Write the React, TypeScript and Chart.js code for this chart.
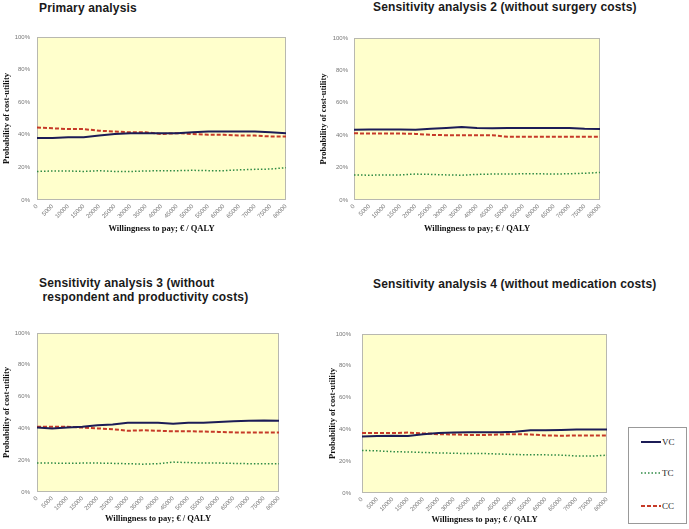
import React, { useEffect, useRef } from "react";
import { Chart, registerables } from "chart.js";

Chart.register(...registerables);

const wtpLabels = ["0", "5000", "10000", "15000", "20000", "25000", "30000", "35000", "40000", "45000", "50000", "55000", "60000", "65000", "70000", "75000", "80000"];
const yTickValues = [0, 20, 40, 60, 80, 100];

const primaryVC = [38, 38, 38.5, 38.5, 39.5, 40.5, 41, 41, 41, 41, 41.5, 42, 42, 42, 42, 41.5, 41];
const primaryTC = [17.5, 17.8, 17.8, 17.5, 18, 17.5, 17.5, 17.8, 18, 18, 18.2, 18, 18, 18.5, 18.8, 19, 19.8];
const primaryCC = [44.5, 44, 43.5, 43.5, 42.5, 42, 41.5, 41.5, 40.5, 41, 40.5, 40, 40, 39.5, 39.5, 39, 39];

const sens2VC = [43.3, 43.5, 43.5, 43.5, 43.3, 44, 44.5, 45, 44.5, 44.3, 44.5, 44.5, 44.5, 44.5, 44.5, 44, 43.8];
const sens2TC = [15.5, 15.3, 15.5, 15.5, 16, 15.8, 15.5, 15.3, 15.8, 16, 16, 16.2, 16.2, 16, 16.2, 16.5, 17];
const sens2CC = [41.2, 41, 41, 41, 40.8, 40.2, 40, 40, 40, 40, 39, 39, 39, 39, 39, 39, 39];

const sens3VC = [40.5, 40, 40.5, 41, 42, 42.5, 43.5, 43.5, 43.5, 43, 43.5, 43.5, 44, 44.5, 44.8, 45, 44.8];
const sens3TC = [18.2, 18.2, 18, 18.2, 18.2, 18, 17.8, 17.5, 17.8, 18.8, 18.5, 18.2, 18.2, 18, 17.8, 17.8, 17.8];
const sens3CC = [41, 41, 41, 40.5, 40, 39.5, 38.5, 38.8, 38.5, 38.2, 38.2, 38, 37.8, 37.5, 37.5, 37.5, 37.5];

const sens4VC = [35.6, 35.8, 36, 35.8, 37, 37.8, 38, 38.2, 38.2, 38.2, 38.5, 39.5, 39.5, 39.7, 40, 40, 40];
const sens4TC = [26.8, 26.5, 26, 25.8, 25.5, 25.2, 25, 24.8, 24.8, 24.5, 24.2, 24, 24, 23.8, 23.3, 23.2, 23.8];
const sens4CC = [37.7, 37.7, 37.7, 38, 37.5, 37, 36.8, 36.5, 36.5, 36.8, 37, 36.8, 36.2, 36, 36.2, 36.2, 36.2];

const seriesNames = ["VC", "TC", "CC"];

const VC_COLOR = "#1c1c56";
const TC_COLOR = "#2f8a45";
const CC_COLOR = "#c63a28";

const plotBg = {
  id: "plotBg",
  beforeDatasetsDraw(chart: any) {
    const { ctx, chartArea } = chart;
    ctx.save();
    ctx.fillStyle = "#ffffcc";
    ctx.fillRect(chartArea.left, chartArea.top, chartArea.right - chartArea.left, chartArea.bottom - chartArea.top);
    ctx.strokeStyle = "#b8b8b0";
    ctx.lineWidth = 1;
    ctx.strokeRect(chartArea.left + 0.5, chartArea.top + 0.5, chartArea.right - chartArea.left - 1, chartArea.bottom - chartArea.top - 1);
    ctx.restore();
  },
};

type PanelProps = {
  vc: number[];
  tc: number[];
  cc: number[];
  left: number;
  top: number;
  width: number;
  height: number;
  padTop: number;
  padRight: number;
  yWidth: number;
  xHeight: number;
  tickPad: number;
};

function Panel(p: PanelProps) {
  const ref = useRef<HTMLCanvasElement | null>(null);
  useEffect(() => {
    if (!ref.current) return;
    const chart = new Chart(ref.current, {
      type: "line",
      data: {
        labels: wtpLabels,
        datasets: [
          { label: seriesNames[0], data: p.vc, borderColor: VC_COLOR, borderWidth: 2, pointRadius: 0, tension: 0, fill: false },
          { label: seriesNames[1], data: p.tc, borderColor: TC_COLOR, borderWidth: 1.5, borderDash: [1.5, 2], pointRadius: 0, tension: 0, fill: false },
          { label: seriesNames[2], data: p.cc, borderColor: CC_COLOR, borderWidth: 2, borderDash: [4, 2], pointRadius: 0, tension: 0, fill: false },
        ],
      },
      options: {
        animation: false,
        responsive: false,
        maintainAspectRatio: false,
        layout: { padding: { top: p.padTop, right: p.padRight, left: 0, bottom: 0 } },
        plugins: { legend: { display: false }, tooltip: { enabled: false } },
        scales: {
          x: {
            grid: { display: false, drawTicks: false },
            border: { display: false },
            ticks: {
              autoSkip: false,
              minRotation: 45,
              maxRotation: 45,
              padding: 3,
              color: "#777",
              font: { family: "Liberation Sans", size: 6 },
            },
            title: {
              display: true,
              text: "Willingness to pay; € / QALY",
              color: "#111",
              padding: { top: 0, bottom: 0 },
              font: { family: "Liberation Serif", size: 8.5, weight: "bold" },
            },
            afterFit: (s: any) => {
              s.height = p.xHeight;
            },
          },
          y: {
            min: 0,
            max: 100,
            grid: { display: false, drawTicks: false },
            border: { display: false },
            afterBuildTicks: (s: any) => {
              s.ticks = yTickValues.map((v) => ({ value: v }));
            },
            ticks: {
              padding: p.tickPad,
              color: "#777",
              font: { family: "Liberation Sans", size: 6 },
              callback: (v: any) => v + "%",
            },
            title: {
              display: true,
              text: "Probability of cost-utility",
              color: "#111",
              padding: { top: 2, bottom: 0 },
              font: { family: "Liberation Serif", size: 8.5, weight: "bold" },
            },
            afterFit: (s: any) => {
              s.width = p.yWidth;
              s.paddingTop = 3;
              s.paddingBottom = 3;
            },
          },
        },
      },
      plugins: [plotBg],
    });
    return () => chart.destroy();
  }, []);
  return (
    <canvas
      ref={ref}
      width={p.width}
      height={p.height}
      style={{ position: "absolute", left: p.left, top: p.top, width: p.width, height: p.height }}
    />
  );
}

const titleStyle: React.CSSProperties = {
  position: "absolute",
  fontFamily: "Liberation Sans, Arial, sans-serif",
  fontWeight: "bold",
  fontSize: 12,
  letterSpacing: "0.15px",
  lineHeight: "14px",
  color: "#1a1a1a",
  whiteSpace: "pre",
};

function LegendLine({ color, dash, width }: { color: string; dash: string; width: number }) {
  return (
    <svg width={20} height={6} style={{ display: "block" }}>
      <line x1={0} y1={3} x2={20} y2={3} stroke={color} strokeWidth={width} strokeDasharray={dash} />
    </svg>
  );
}

export default function App() {
  const legendItems = [
    { name: seriesNames[0], color: VC_COLOR, dash: "", width: 2, top: 9 },
    { name: seriesNames[1], color: TC_COLOR, dash: "1.5 2", width: 1.5, top: 40 },
    { name: seriesNames[2], color: CC_COLOR, dash: "4 2", width: 2, top: 73 },
  ];
  return (
    <div style={{ position: "absolute", left: 0, top: 0, width: 689, height: 529, background: "#fff", overflow: "hidden" }}>
      <div style={{ ...titleStyle, left: 39, top: 1 }}>Primary analysis</div>
      <div style={{ ...titleStyle, left: 373, top: 0 }}>Sensitivity analysis 2 (without surgery costs)</div>
      <div style={{ ...titleStyle, left: 39, top: 276 }}>{"Sensitivity analysis 3 (without\n respondent and productivity costs)"}</div>
      <div style={{ ...titleStyle, left: 373, top: 277 }}>Sensitivity analysis 4 (without medication costs)</div>

      <Panel vc={primaryVC} tc={primaryTC} cc={primaryCC} left={0} top={30} width={300} height={204} padTop={7} padRight={14} yWidth={37} xHeight={34} tickPad={7} />
      <Panel vc={sens2VC} tc={sens2TC} cc={sens2CC} left={317} top={30} width={297} height={204} padTop={8} padRight={14} yWidth={37} xHeight={34} tickPad={6} />
      <Panel vc={sens3VC} tc={sens3TC} cc={sens3CC} left={0} top={326} width={293} height={198} padTop={7} padRight={14} yWidth={37} xHeight={32} tickPad={7} />
      <Panel vc={sens4VC} tc={sens4TC} cc={sens4CC} left={326} top={327} width={295} height={198} padTop={7} padRight={14} yWidth={36} xHeight={32} tickPad={11} />

      <div style={{ position: "absolute", left: 628, top: 427, width: 57, height: 95, border: "1px solid #999", background: "#fff" }}>
        {legendItems.map((it) => (
          <div key={it.name} style={{ position: "absolute", left: 12, top: it.top, display: "flex", alignItems: "center", fontFamily: "Liberation Serif, serif", fontSize: 9, color: "#222" }}>
            <LegendLine color={it.color} dash={it.dash} width={it.width} />
            <span style={{ marginLeft: 1 }}>{it.name}</span>
          </div>
        ))}
      </div>
    </div>
  );
}
